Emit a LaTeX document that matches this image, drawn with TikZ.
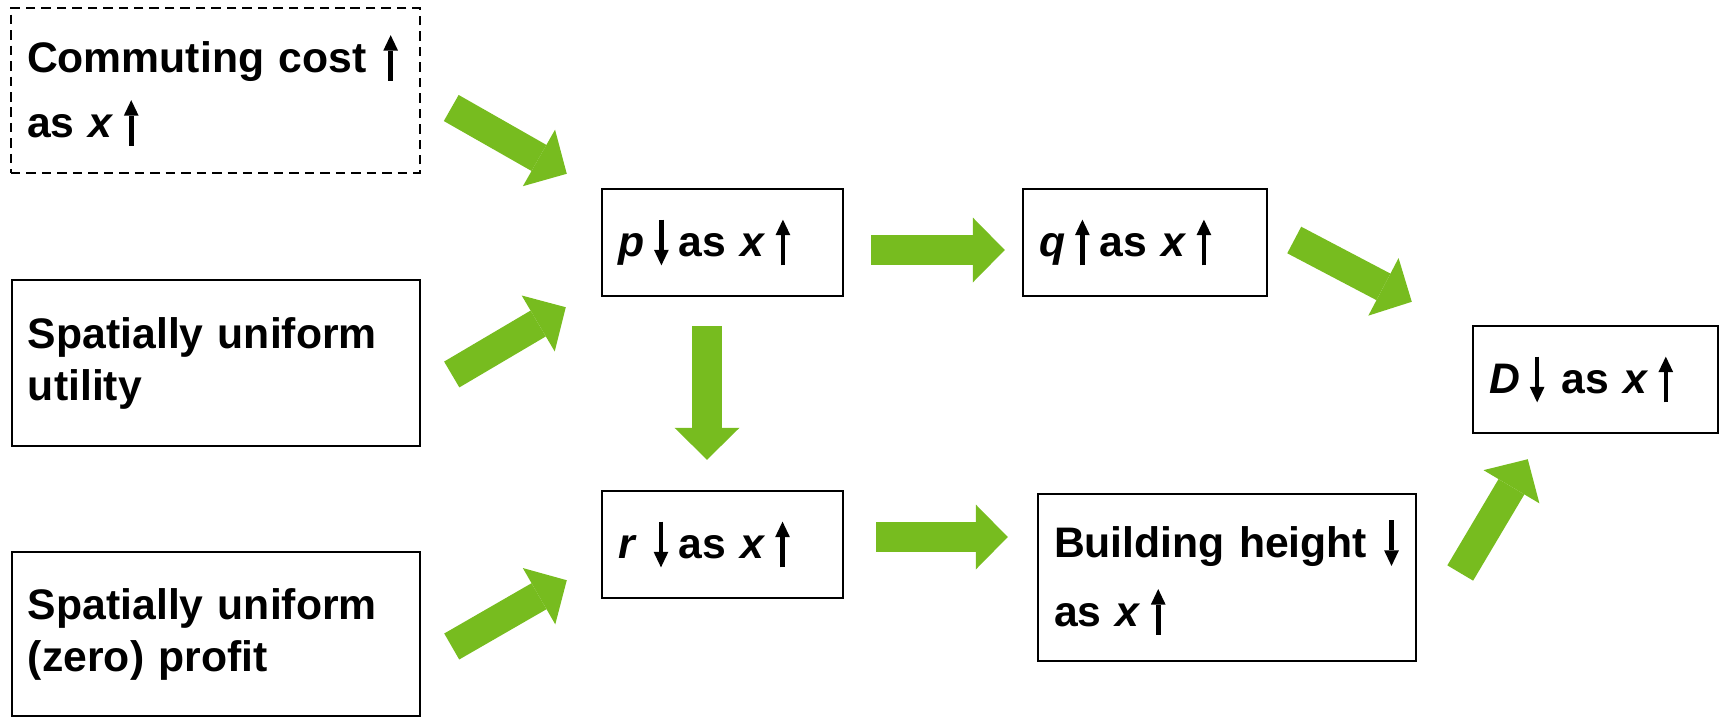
\documentclass[tikz,border=0pt]{standalone}
\usepackage{fontspec}
\setmainfont{Liberation Sans}
\usepackage{tikz}
\usetikzlibrary{arrows.meta}
\definecolor{leafgreen}{HTML}{77BC1F}
\newcommand{\boxfont}{\fontsize{12.15pt}{14.8pt}\selectfont\bfseries}
\newcommand{\uparr}{\hspace{0.8pt}\tikz[baseline=0pt]\draw[solid,black,line width=1.3pt,-{Triangle[length=4.4pt,width=4.2pt,line width=0pt]}] (0,-2.4pt) -- (0,10.6pt);\hspace{0.8pt}}
\newcommand{\dnarr}{\hspace{0.8pt}\tikz[baseline=0pt]\draw[solid,black,line width=1.3pt,-{Triangle[length=4.4pt,width=4.2pt,line width=0pt]}] (0,10.6pt) -- (0,-2.4pt);\hspace{0.8pt}}
\tikzset{
  box/.style={draw, line width=0.7pt, inner xsep=0.16cm, inner ysep=0pt, align=left, font=\boxfont},
  dashbox/.style={box, dash pattern=on 2.7pt off 1.7pt},
  greenarrow/.style={draw=leafgreen, line width=0.30cm, -{Triangle[length=0.32cm,width=0.65cm,line width=0pt]}}
}
\begin{document}
\begin{tikzpicture}
\useasboundingbox (0,0) rectangle (17.2,7.18);

\node[dashbox, text width=3.77cm, minimum height=1.65cm] (comm) at (2.155,6.275)
  {Commuting cost~\uparr\\[3.7pt] as \textit{x}\,\uparr};
\node[box, text width=3.76cm, minimum height=1.66cm] (util) at (2.16,3.55)
  {Spatially uniform\\ utility};
\node[box, text width=3.76cm, minimum height=1.64cm] (prof) at (2.16,0.84)
  {Spatially uniform\\ (zero) profit};

\node[box, text width=2.09cm, minimum height=1.07cm] (p) at (7.225,4.755)
  {\textit{p}\,\dnarr\,as \textit{x}\,\uparr};
\node[box, text width=2.12cm, minimum height=1.07cm] (q) at (11.45,4.755)
  {\textit{q}\,\uparr\,as \textit{x}\,\uparr};
\node[box, text width=2.09cm, minimum height=1.07cm] (r) at (7.225,1.735)
  {\textit{r}~\dnarr\,as \textit{x}\,\uparr};
\node[box, text width=3.46cm, minimum height=1.67cm] (bh) at (12.27,1.405)
  {Building height~\dnarr\\[4.8pt] as \textit{x}\,\uparr};
\node[box, text width=2.13cm, minimum height=1.07cm] (d) at (15.955,3.385)
  {\textit{D}\,\dnarr~as \textit{x}\,\uparr};

\draw[greenarrow] ([xshift=0.30cm,yshift=-0.175cm]comm.east) -- ([xshift=-0.34cm,yshift=0.14cm]p.north west);
\draw[greenarrow] ([xshift=0.305cm,yshift=-0.115cm]util.east) -- ([xshift=-0.35cm,yshift=-0.10cm]p.south west);
\draw[greenarrow] ([xshift=0.305cm,yshift=-0.125cm]prof.east) -- ([xshift=-0.34cm,yshift=0.19cm]r.south west);
\draw[greenarrow] ([xshift=0.27cm,yshift=-0.075cm]p.east) -- ([xshift=-0.17cm,yshift=-0.075cm]q.west);
\draw[greenarrow] ([xshift=-0.155cm,yshift=-0.29cm]p.south) -- ([xshift=-0.155cm,yshift=0.30cm]r.north);
\draw[greenarrow] ([xshift=0.32cm,yshift=0.075cm]r.east) -- ([xshift=-0.29cm,yshift=0.405cm]bh.west);
\draw[greenarrow] ([xshift=0.26cm,yshift=0.025cm]q.east) -- ([xshift=-0.60cm,yshift=0.23cm]d.north west);
\draw[greenarrow] ([xshift=0.43cm,yshift=0.045cm]bh.east) -- ([xshift=0.56cm,yshift=-0.25cm]d.south west);
\end{tikzpicture}
\end{document}
